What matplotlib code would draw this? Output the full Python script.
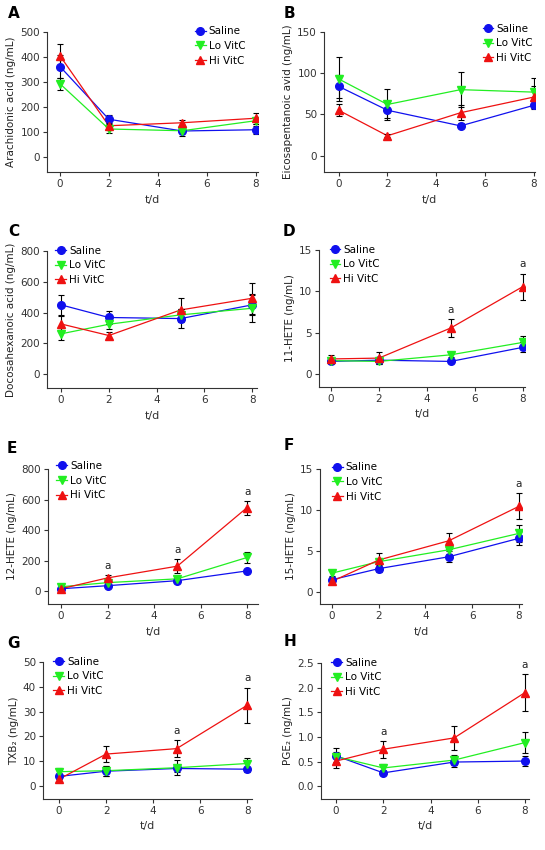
import matplotlib
matplotlib.use("Agg")
import matplotlib.pyplot as plt

plt.rcParams['font.family'] = ['DejaVu Sans']

days = [0, 2, 5, 8]
groups = ["Saline", "Lo VitC", "Hi VitC"]
colors = ["#1010ee", "#22ee22", "#ee1111"]
markers = ["o", "v", "^"]

# means per group (Saline, Lo VitC, Hi VitC) and SEM
A_mean = [[362, 151, 104, 109], [293, 112, 105, 145], [405, 125, 137, 155]]
A_err = [[45, 18, 18, 15], [25, 15, 10, 12], [48, 10, 10, 23]]
B_mean = [[84, 55, 36, 61], [93, 62, 80, 77], [55, 24, 52, 71]]
B_err = [[14, 10, 3, 3], [27, 19, 21, 17], [7, 2, 9, 14]]
C_mean = [[450, 368, 361, 450], [262, 324, 385, 428], [326, 251, 417, 493]]
C_err = [[63, 42, 62, 65], [40, 30, 40, 90], [50, 25, 78, 100]]
D_mean = [[1.5, 1.65, 1.5, 3.2], [1.6, 1.5, 2.3, 3.8], [1.8, 1.9, 5.55, 10.55]]
D_err = [[0.3, 0.3, 0.2, 0.6], [0.3, 0.3, 0.3, 0.8], [0.45, 0.7, 1.05, 1.6]]
E_mean = [[15, 35, 68, 132], [28, 55, 80, 220], [15, 86, 163, 547]]
E_err = [[8, 10, 10, 12], [10, 12, 12, 37], [10, 22, 44, 46]]
F_mean = [[1.5, 2.85, 4.3, 6.55], [2.3, 3.7, 5.15, 7.15], [1.3, 3.9, 6.25, 10.45]]
F_err = [[0.3, 0.4, 0.7, 0.85], [0.3, 0.5, 0.5, 1.0], [0.3, 0.8, 1.0, 1.6]]
G_mean = [[3.9, 6.0, 7.1, 6.8], [5.8, 6.2, 7.4, 9.1], [2.8, 12.9, 15.1, 32.6]]
G_err = [[1.0, 2.1, 1.5, 1.0], [1.3, 2.0, 3.0, 2.3], [1.0, 3.1, 3.3, 7.1]]
H_mean = [[0.615, 0.27, 0.49, 0.51], [0.6, 0.37, 0.53, 0.885], [0.51, 0.75, 0.98, 1.9]]
H_err = [[0.15, 0.05, 0.1, 0.1], [0.1, 0.09, 0.1, 0.22], [0.15, 0.17, 0.25, 0.38]]

ylabels = ["Arachidonic acid (ng/mL)", "Eicosapentanoic avid (ng/mL)",
           "Docosahexanoic acid (ng/mL)", "11-HETE (ng/mL)",
           "12-HETE (ng/mL)", "15-HETE (ng/mL)",
           "TXB\u2082 (ng/mL)", "PGE\u2082 (ng/mL)"]
letters = ["A", "B", "C", "D", "E", "F", "G", "H"]
yticks = [[0, 100, 200, 300, 400, 500], [0, 50, 100, 150], [0, 200, 400, 600, 800],
          [0, 5, 10, 15], [0, 200, 400, 600, 800], [0, 5, 10, 15],
          [0, 10, 20, 30, 40, 50], [0.0, 0.5, 1.0, 1.5, 2.0, 2.5]]
ytickfmt = [None] * 7 + ["{:.1f}"]
sig_marks = [[], [], [], [5, 8], [2, 5, 8], [8], [5, 8], [2, 8]]

means = [A_mean, B_mean, C_mean, D_mean, E_mean, F_mean, G_mean, H_mean]
errs = [A_err, B_err, C_err, D_err, E_err, F_err, G_err, H_err]

W, H = 545, 850
# axes boxes in pixels: left, top, right, bottom
boxes = [(47, 32, 258, 172), (324, 32, 535, 172),
         (47, 251, 257, 388), (319, 250, 525, 387),
         (48, 469, 258, 604), (320, 469, 522, 604),
         (43, 662, 252, 799), (321, 663, 529, 799)]
xlims = [(-0.53, 8.1), (-0.6, 8.05), (-0.59, 8.2), (-0.5, 8.1),
         (-0.56, 8.47), (-0.51, 8.13), (-0.68, 8.2), (-0.64, 8.17)]
ylims = [(-60, 500), (-20, 150), (-90, 800), (-1.6, 15),
         (-85, 800), (-1.46, 15), (-5.2, 50), (-0.26, 2.5)]
letter_pos = [(8, 13), (284, 13), (8, 231), (283, 231),
              (7, 448), (284, 446), (7, 643), (284, 642)]
legend_loc = ["upper right", "upper right"] + ["upper left"] * 6
legend_anchor = [(0.94, 1.04), (0.99, 1.06), (0.04, 1.04), (0.053, 1.04),
                 (0.04, 1.06), (0.06, 1.05), (0.05, 1.04), (0.05, 1.04)]

fig = plt.figure(figsize=(W / 100, H / 100), dpi=100)

for k in range(8):
    l, t, r, b = boxes[k]
    ax = fig.add_axes([l / W, 1 - b / H, (r - l) / W, (b - t) / H])
    for g in range(3):
        ax.errorbar(days, means[k][g], yerr=errs[k][g], fmt="none", ecolor="black",
                    elinewidth=0.8, capsize=2.4, capthick=0.8, zorder=2)
        ax.plot(days, means[k][g], color=colors[g], lw=0.9, zorder=1)
        ax.plot(days, means[k][g], linestyle="none", marker=markers[g], ms=5.5,
                color=colors[g], zorder=3)
    # legend proxies
    handles = [ax.plot([], [], color=colors[g], marker=markers[g], ms=5.5, lw=0.9)[0]
               for g in range(3)]
    ax.legend(handles, groups, loc=legend_loc[k], bbox_to_anchor=legend_anchor[k],
              frameon=False, fontsize=7.5, handlelength=1.0, handletextpad=0.3,
              labelspacing=0.45, borderaxespad=0.0, borderpad=0.0)
    # significance marks
    for d in sig_marks[k]:
        i = days.index(d)
        top = means[k][2][i] + errs[k][2][i]
        span = ylims[k][1] - ylims[k][0]
        ax.text(d, top + 0.03 * span, "a", ha="center", va="bottom", fontsize=7.5,
                color="#222222")
    ax.set_xlim(xlims[k])
    ax.set_ylim(ylims[k])
    ax.set_xticks([0, 2, 4, 6, 8])
    ax.set_yticks(yticks[k])
    if ytickfmt[k]:
        ax.set_yticklabels([ytickfmt[k].format(v) for v in yticks[k]])
    ax.spines["top"].set_visible(False)
    ax.spines["right"].set_visible(False)
    ax.spines["left"].set_bounds(ylims[k][0], yticks[k][-1])
    for s in ["left", "bottom"]:
        ax.spines[s].set_linewidth(0.8)
        ax.spines[s].set_color("#333333")
    ax.tick_params(labelsize=7.5, length=3, width=0.8, colors="#333333", pad=2)
    ax.set_xlabel("t/d", fontsize=8, labelpad=4, color="#333333")
    ax.set_ylabel(ylabels[k], fontsize=7.5, labelpad=3, color="#222222")
    fig.text(letter_pos[k][0] / W, 1 - letter_pos[k][1] / H, letters[k],
             fontsize=11, fontweight="bold", va="center", ha="left")

fig.savefig("out.png", dpi=100)
